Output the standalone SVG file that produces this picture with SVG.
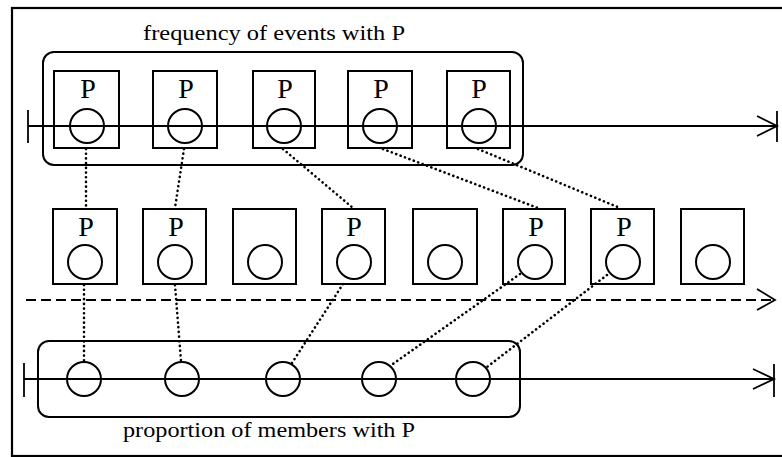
<svg xmlns="http://www.w3.org/2000/svg" width="782" height="457" viewBox="0 0 782 457">
<style>
.frame{fill:none;stroke:#000;stroke-width:2.2}
.grp{fill:none;stroke:#000;stroke-width:2}
.box{fill:none;stroke:#000;stroke-width:2}
.c{fill:none;stroke:#000;stroke-width:2}
.axis{fill:none;stroke:#000;stroke-width:1.8}
.dash{fill:none;stroke:#000;stroke-width:1.8;stroke-dasharray:10 5}
.dot{fill:none;stroke:#000;stroke-width:2.6;stroke-linecap:round;stroke-dasharray:0.1 4.6}
.p{font-family:"Liberation Serif","Times New Roman",serif;font-size:28px;text-anchor:middle;fill:#000}
.lbl{font-family:"Liberation Serif","Times New Roman",serif;font-size:21px;fill:#000}
</style>
<rect width="782" height="457" fill="#fff"/>
<rect class="frame" x="12" y="8" width="778" height="448"/>

<g id="top-group">
<rect class="grp" x="43" y="52" width="480" height="113" rx="11"/>
<text class="lbl" x="143" y="40" textLength="262" lengthAdjust="spacingAndGlyphs">frequency of events with P</text>
</g>

<g id="top-axis">
<line class="axis" x1="28" y1="126" x2="777" y2="126"/>
<line class="axis" x1="28" y1="110" x2="28" y2="143"/>
<line class="axis" x1="777" y1="111" x2="777" y2="142"/>
<polyline class="axis" points="757,116 777,126 757,136"/>
</g>

<g id="top-event-1"><rect class="box" x="54" y="71" width="65" height="77"/><text class="p" x="88" y="98">P</text><circle class="c" cx="87" cy="126" r="17"/></g>
<g id="top-event-2"><rect class="box" x="153" y="71" width="64" height="77"/><text class="p" x="186" y="98">P</text><circle class="c" cx="185" cy="126" r="17"/></g>
<g id="top-event-3"><rect class="box" x="253" y="71" width="62" height="77"/><text class="p" x="285" y="98">P</text><circle class="c" cx="284" cy="126" r="17"/></g>
<g id="top-event-4"><rect class="box" x="348" y="71" width="64" height="77"/><text class="p" x="381" y="98">P</text><circle class="c" cx="380" cy="126" r="17"/></g>
<g id="top-event-5"><rect class="box" x="447" y="71" width="63" height="77"/><text class="p" x="479" y="98">P</text><circle class="c" cx="479" cy="126" r="17"/></g>

<g id="middle-axis">
<line class="dash" x1="26" y1="300" x2="775" y2="300"/>
<polyline class="axis" points="757,289 775,300 757,310"/>
</g>

<g id="member-1"><rect class="box" x="53" y="209" width="64" height="75"/><text class="p" x="86" y="236">P</text><circle class="c" cx="85" cy="262" r="17"/></g>
<g id="member-2"><rect class="box" x="143" y="209" width="63" height="75"/><text class="p" x="176" y="236">P</text><circle class="c" cx="175" cy="262" r="17"/></g>
<g id="member-3"><rect class="box" x="233" y="209" width="63" height="75"/><circle class="c" cx="265" cy="262" r="17"/></g>
<g id="member-4"><rect class="box" x="322" y="209" width="63" height="75"/><text class="p" x="354" y="236">P</text><circle class="c" cx="354" cy="262" r="17"/></g>
<g id="member-5"><rect class="box" x="413" y="209" width="64" height="75"/><circle class="c" cx="445" cy="262" r="17"/></g>
<g id="member-6"><rect class="box" x="503" y="209" width="62" height="75"/><text class="p" x="536" y="236">P</text><circle class="c" cx="535" cy="262" r="17"/></g>
<g id="member-7"><rect class="box" x="591" y="209" width="63" height="75"/><text class="p" x="624" y="236">P</text><circle class="c" cx="623" cy="262" r="17"/></g>
<g id="member-8"><rect class="box" x="681" y="209" width="63" height="75"/><circle class="c" cx="713" cy="262" r="17"/></g>

<g id="bottom-group">
<rect class="grp" x="38" y="341" width="482" height="76" rx="11"/>
<text class="lbl" x="123" y="437" textLength="292" lengthAdjust="spacingAndGlyphs">proportion of members with P</text>
</g>

<g id="bottom-axis">
<line class="axis" x1="24" y1="379" x2="774" y2="379"/>
<line class="axis" x1="24" y1="363" x2="24" y2="397"/>
<line class="axis" x1="774" y1="364" x2="774" y2="397"/>
<polyline class="axis" points="753,369 774,379 753,389"/>
</g>

<g id="bottom-point-1"><circle class="c" cx="84" cy="379" r="17"/></g>
<g id="bottom-point-2"><circle class="c" cx="182" cy="379" r="17"/></g>
<g id="bottom-point-3"><circle class="c" cx="283" cy="379" r="17"/></g>
<g id="bottom-point-4"><circle class="c" cx="379" cy="379" r="17"/></g>
<g id="bottom-point-5"><circle class="c" cx="473" cy="379" r="17"/></g>

<g id="connectors">
<line class="dot" x1="86" y1="149" x2="86" y2="208"/>
<line class="dot" x1="184" y1="149" x2="175" y2="208"/>
<line class="dot" x1="283" y1="149" x2="353" y2="208"/>
<line class="dot" x1="383" y1="149" x2="538" y2="208"/>
<line class="dot" x1="478" y1="149" x2="620" y2="208"/>
<line class="dot" x1="84" y1="285" x2="84" y2="361"/>
<line class="dot" x1="175" y1="285" x2="181" y2="361"/>
<line class="dot" x1="343" y1="284" x2="292" y2="363"/>
<line class="dot" x1="520" y1="274" x2="390" y2="366"/>
<line class="dot" x1="607" y1="275" x2="487" y2="367"/>
</g>
</svg>
